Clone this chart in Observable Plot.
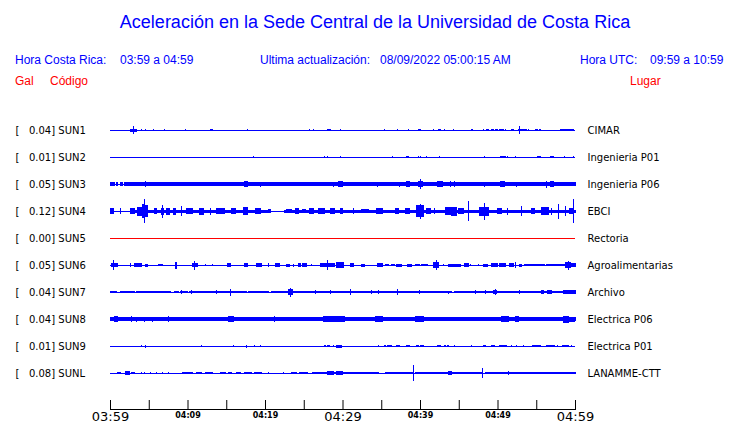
<!DOCTYPE html>
<html><head><meta charset="utf-8">
<script src="https://cdn.jsdelivr.net/npm/d3@7"></script>
<script src="https://cdn.jsdelivr.net/npm/@observablehq/plot@0.6"></script>
<style>
html,body{margin:0;padding:0;background:#fff;}
#chart{width:740px;}
#head{position:relative;height:100px;font-family:"Liberation Sans",Arial,sans-serif;}
#head div{position:absolute;white-space:pre;line-height:1;transform:translateY(-50%);}
#head .b{color:#0000ff;font-size:12px;}
#head .r{color:#ff0000;font-size:12px;}
#head #title{font-size:18px;color:#0000ff;left:375px;top:22px;transform:translate(-50%,-50%);}
#chart svg{display:block;}
</style></head>
<body>
<div id="chart">
  <div id="head">
    <div id="title">Aceleración en la Sede Central de la Universidad de Costa Rica</div>
    <div class="b" style="left:15px;top:60px">Hora Costa Rica:</div>
    <div class="b" style="left:120px;top:60px">03:59 a 04:59</div>
    <div class="b" style="left:260px;top:60px">Ultima actualización:</div>
    <div class="b" style="left:380px;top:60px">08/09/2022 05:00:15 AM</div>
    <div class="b" style="left:580px;top:60px">Hora UTC:</div>
    <div class="b" style="left:650px;top:60px">09:59 a 10:59</div>
    <div class="r" style="left:15px;top:81px">Gal</div>
    <div class="r" style="left:50px;top:81px">Código</div>
    <div class="r" style="left:630px;top:81px">Lugar</div>
  </div>
</div>
<script>
// ---- data ----
const stations = ["SUN1","SUN2","SUN3","SUN4","SUN5","SUN6","SUN7","SUN8","SUN9","SUNL"];
const peaks = [0.04,0.01,0.05,0.12,0.00,0.05,0.04,0.04,0.01,0.08];
const places = ["CIMAR","Ingenieria P01","Ingenieria P06","EBCI","Rectoria","Agroalimentarias","Archivo","Electrica P06","Electrica P01","LANAMME-CTT"];
const tickMinutes = [0,10,20,30,40,50,60];
const tickLabels = ["03:59","04:09","04:19","04:29","04:39","04:49","04:59"];
const majorTickLabels = ["03:59","04:29","04:59"];

// continuous noise bands: [startMin, endMin, halfAmplitude Gal]
const sun1Band = [];
const sun2Band = [];
const sun3Band = [[0,0.6,0.017],[0.8,1.0,0.017],[1.3,1.6,0.017],[1.9,60,0.017]];
const sun4Band = [[2.6,20.5,0.015],[22.5,60,0.015]];
const sun5Band = [];
const sun6Band = [];
const sun7Band = [[0,0.9,0.014],[1.3,3.1,0.014],[3.4,7.8,0.014],[8.3,8.8,0.014],[9.1,10.0,0.014],[10.3,17.6,0.014],[17.9,20.5,0.014],[20.9,44.0,0.014],[44.4,60,0.014]];
const sun8Band = [[0,60,0.019]];
const sun9Band = [];
const sunlBand = [[26.1,34.6,0.013],[35.5,39.0,0.013],[39.4,43.7,0.013],[44.1,48.0,0.013],[48.4,60,0.013]];

// bursts: [startMin, endMin, halfAmplitude Gal]
const sun1Bursts = [[2.7,3.4,0.015],[3.0,3.0,0.04],[4.0,4.0,0.01],[4.6,4.6,0.008],[5.6,5.6,0.01],[7.0,7.0,0.01],[9.7,9.7,0.01],[13.0,13.2,0.013],[17.7,17.7,0.007],[25.7,25.7,0.012],[26.2,26.2,0.012],[28.1,28.4,0.013],[29.8,29.8,0.012],[35.4,35.4,0.007],[37.1,37.1,0.007],[38.5,38.5,0.008],[39.8,40.1,0.013],[41.7,41.7,0.008],[42.4,42.7,0.013],[43.2,43.2,0.008],[44.3,44.3,0.007],[46.7,46.8,0.012],[48.2,48.2,0.01],[48.6,48.9,0.012],[49.2,49.5,0.013],[49.8,50.0,0.012],[50.3,50.8,0.013],[51.0,51.0,0.01],[51.8,52.0,0.012],[52.7,53.8,0.012],[52.9,52.9,0.04],[54.0,54.0,0.008],[54.9,55.1,0.013],[55.4,55.6,0.013],[58.1,59.8,0.012]];
const sun2Bursts = [[18.5,18.5,0.007],[27.7,27.7,0.006],[28.1,28.1,0.006],[29.8,29.8,0.01],[36.4,36.4,0.006],[38.3,38.5,0.01],[39.8,39.8,0.01],[40.1,40.1,0.01],[40.9,40.9,0.01],[42.5,42.5,0.006],[48.3,48.3,0.008],[50.4,51.0,0.012],[51.3,51.3,0.008],[52.3,52.3,0.006],[55.1,55.5,0.01],[56.8,57.2,0.01],[58.7,58.7,0.008],[59.8,59.8,0.006]];
const sun3Bursts = [[4.6,4.6,0.027],[7.2,7.2,0.02],[8.5,8.5,0.02],[16.1,16.1,0.02],[17.4,17.7,0.03],[19.4,19.4,0.025],[21.5,21.5,0.018],[28.8,28.8,0.025],[29.5,30.0,0.028],[34.5,34.5,0.025],[36.4,36.4,0.022],[37.3,37.3,0.025],[38.3,38.6,0.028],[39.8,40.3,0.028],[40.0,40.0,0.05],[42.3,42.9,0.026],[43.9,43.9,0.027],[44.4,44.4,0.027],[48.3,48.3,0.025],[50.4,50.9,0.028],[52.4,52.4,0.025],[54.8,55.0,0.024],[55.3,55.5,0.024],[56.3,56.3,0.035],[56.8,57.2,0.026],[58.5,59.8,0.024]];
const sun4Bursts = [[0.1,0.4,0.027],[1.3,1.3,0.027],[2.7,3.2,0.03],[3.6,4.1,0.045],[4.2,4.4,0.07],[4.5,4.5,0.12],[4.6,4.8,0.06],[5.7,6.0,0.032],[6.7,6.9,0.035],[6.8,6.8,0.065],[7.3,7.7,0.035],[8.2,8.5,0.035],[9.2,9.2,0.05],[9.9,10.6,0.027],[11.5,12.0,0.035],[13.0,13.0,0.035],[13.8,14.8,0.027],[15.7,16.2,0.027],[17.2,17.8,0.038],[18.8,19.4,0.032],[20.4,20.7,0.02],[22.8,23.4,0.02],[23.9,24.3,0.026],[24.8,25.2,0.022],[25.8,26.2,0.026],[26.9,27.7,0.027],[28.4,29.0,0.027],[29.7,30.0,0.03],[31.4,31.4,0.028],[32.5,33.3,0.02],[34.4,35.1,0.027],[36.8,37.2,0.028],[38.1,38.7,0.032],[39.6,40.4,0.06],[40.0,40.0,0.075],[40.9,41.3,0.032],[41.9,41.9,0.03],[43.3,44.1,0.036],[44.1,44.7,0.045],[45.0,45.6,0.032],[46.3,46.3,0.1],[47.7,48.8,0.045],[48.3,48.3,0.085],[50.0,50.5,0.028],[51.3,51.3,0.035],[53.1,53.1,0.05],[54.4,54.8,0.028],[55.7,56.6,0.036],[57.0,57.0,0.035],[57.9,57.9,0.075],[58.8,58.8,0.05],[59.3,59.8,0.028],[59.8,59.8,0.12]];
const sun5Bursts = [];
const sun6Bursts = [[0.2,1.0,0.022],[0.5,0.5,0.05],[2.6,2.6,0.02],[3.1,4.0,0.018],[4.6,4.9,0.015],[6.2,6.8,0.013],[8.4,8.6,0.035],[10.6,11.3,0.022],[10.9,10.9,0.045],[12.3,12.3,0.01],[13.2,13.2,0.01],[15.2,15.6,0.022],[17.4,17.8,0.016],[18.9,19.5,0.016],[20.4,20.4,0.022],[21.4,21.9,0.016],[22.8,23.1,0.015],[23.7,23.7,0.015],[24.3,24.6,0.018],[24.9,25.4,0.016],[26.0,26.0,0.012],[27.1,28.0,0.024],[28.1,28.1,0.05],[28.2,29.0,0.024],[29.2,30.1,0.026],[31.0,31.4,0.02],[32.5,32.8,0.015],[34.5,35.1,0.016],[35.5,35.9,0.013],[36.3,36.7,0.013],[37.0,37.6,0.015],[38.4,38.9,0.015],[39.4,39.9,0.013],[40.2,41.0,0.013],[41.8,42.4,0.028],[42.1,42.1,0.048],[43.0,43.0,0.012],[43.7,45.2,0.015],[45.7,46.2,0.018],[46.5,46.5,0.012],[47.6,47.6,0.01],[48.2,48.7,0.015],[49.2,50.0,0.016],[50.3,51.0,0.018],[51.6,52.0,0.018],[52.3,52.3,0.033],[52.8,53.1,0.015],[53.5,56.1,0.013],[56.3,58.7,0.013],[58.8,59.4,0.028],[59.1,59.1,0.045],[59.4,60,0.016]];
const sun7Bursts = [[9.2,9.2,0.018],[10.5,10.5,0.018],[13.7,13.7,0.02],[15.5,15.5,0.035],[23.0,23.5,0.026],[23.3,23.3,0.045],[26.5,26.5,0.02],[28.4,28.4,0.02],[31.0,31.0,0.027],[33.8,33.8,0.018],[34.6,34.6,0.018],[37.1,37.1,0.033],[39.9,39.9,0.02],[43.7,43.7,0.015],[47.1,47.1,0.02],[48.4,48.4,0.02],[49.5,49.9,0.02],[49.7,49.7,0.03],[52.9,52.9,0.02],[55.7,55.9,0.02],[56.5,57.0,0.02],[58.5,60,0.02]];
const sun8Bursts = [[0.6,1.0,0.027],[2.8,2.8,0.027],[3.4,3.4,0.025],[4.5,4.5,0.025],[5.5,5.5,0.025],[7.5,7.5,0.027],[11.0,11.0,0.02],[11.7,11.7,0.02],[12.3,12.3,0.02],[13.8,14.6,0.024],[15.3,15.9,0.028],[17.4,18.3,0.024],[18.9,19.6,0.024],[21.2,21.2,0.027],[23.0,23.4,0.022],[24.3,24.3,0.022],[26.0,26.9,0.024],[27.5,28.4,0.026],[28.6,30.3,0.03],[30.7,32.0,0.024],[32.5,32.9,0.023],[34.2,35.1,0.026],[35.5,36.3,0.024],[37.2,38.1,0.023],[39.4,40.4,0.032],[40.9,41.7,0.024],[42.2,42.8,0.024],[43.4,44.3,0.024],[45.0,46.4,0.023],[46.9,47.5,0.023],[49.2,49.9,0.024],[50.5,51.4,0.028],[52.3,52.7,0.027],[53.1,55.3,0.023],[55.7,56.6,0.024],[57.0,58.5,0.023],[58.5,59.1,0.035],[59.3,59.9,0.025]];
const sun9Bursts = [[4.1,4.1,0.01],[4.6,4.6,0.015],[11.8,11.8,0.01],[15.9,15.9,0.008],[17.6,17.6,0.015],[18.6,18.6,0.008],[19.4,19.4,0.008],[27.7,27.8,0.012],[28.1,28.3,0.012],[28.8,28.8,0.012],[29.2,29.9,0.015],[34.6,34.6,0.012],[35.4,35.6,0.013],[35.8,36.0,0.013],[36.2,36.3,0.013],[37.0,37.4,0.012],[38.3,38.7,0.012],[39.6,39.8,0.013],[40.0,40.4,0.013],[42.2,42.7,0.012],[43.2,43.3,0.012],[43.6,43.7,0.012],[44.5,44.5,0.012],[46.7,46.7,0.01],[48.2,48.5,0.012],[49.2,49.6,0.012],[50.3,51.2,0.013],[51.8,51.8,0.012],[52.5,52.5,0.01],[53.4,53.4,0.012],[54.5,55.5,0.013],[56.3,57.3,0.013],[57.8,57.8,0.01],[58.4,59.2,0.013],[59.6,59.6,0.01]];
const sunlBursts = [[1.0,1.3,0.013],[2.0,2.5,0.02],[2.8,3.2,0.013],[4.0,4.0,0.013],[4.4,4.4,0.013],[5.2,5.2,0.013],[6.0,6.0,0.01],[6.8,6.8,0.01],[7.5,7.5,0.01],[9.3,10.6,0.013],[11.1,11.8,0.013],[12.3,13.2,0.013],[14.2,14.9,0.013],[15.3,15.7,0.013],[16.3,16.8,0.013],[17.4,18.3,0.013],[18.7,19.6,0.013],[20.5,20.5,0.01],[22.4,22.4,0.01],[23.4,24.0,0.013],[24.4,25.5,0.013],[28.0,28.8,0.02],[29.2,30.0,0.02],[39.1,39.1,0.08],[43.7,44.1,0.02],[48.0,48.0,0.05],[51.4,51.4,0.02]];

const bands = [sun1Band,sun2Band,sun3Band,sun4Band,sun5Band,sun6Band,sun7Band,sun8Band,sun9Band,sunlBand];
const bursts = [sun1Bursts,sun2Bursts,sun3Bursts,sun4Bursts,sun5Bursts,sun6Bursts,sun7Bursts,sun8Bursts,sun9Bursts,sunlBursts];

// ---- build ----
const ROW = 0.27; // Gal offset between trace baselines
const BLUE = "#0000ff", RED = "#ff0000";
const colorOf = s => s === "SUN5" ? RED : BLUE;
const xDomain = [tickMinutes[0], tickMinutes[tickMinutes.length - 1]];
const rows = stations.map((s, i) => ({station: s, i, base: -i * ROW}));
const segs = [];
stations.forEach((s, i) => {
  for (const [t0, t1, a] of bands[i].concat(bursts[i])) segs.push({station: s, base: -i * ROW, t0, t1, a});
});
const labelAt = v => Math.round(-v / ROW);
const fmtTime = d => tickLabels[tickMinutes.indexOf(d)];
const majorTicks = tickMinutes.filter((m, k) => majorTickLabels.includes(tickLabels[k]));
const minorTicks = tickMinutes.filter((m, k) => !majorTickLabels.includes(tickLabels[k]));
const NB = "\u00a0";

const chart = Plot.plot({
  width: 740,
  height: 323,
  marginLeft: 110,
  marginRight: 165,
  marginTop: 16,
  marginBottom: 14,
  style: {fontFamily: "DejaVu Sans", fontSize: "10px", background: "white", color: "black"},
  x: {domain: xDomain},
  y: {domain: [0, -(stations.length - 1) * ROW], range: [30, 273]},
  color: {type: "identity"},
  marks: [
    Plot.ruleY(rows, {y: "base", x1: xDomain[0], x2: xDomain[1], stroke: d => colorOf(d.station), strokeWidth: 1}),
    Plot.rect(segs, {x1: "t0", x2: "t1", y1: d => d.base - d.a, y2: d => d.base + d.a, fill: d => colorOf(d.station), insetLeft: -0.5, insetRight: -0.5, shapeRendering: "crispEdges"}),
    Plot.axisY(rows.map(r => r.base), {anchor: "left", tickSize: 0, tickPadding: 95, textAnchor: "start", label: null,
      tickFormat: v => `[${NB}${NB}${NB}${peaks[labelAt(v)].toFixed(2)}]${NB}${stations[labelAt(v)]}`}),
    Plot.axisY(rows.map(r => r.base), {anchor: "right", tickSize: 0, tickPadding: 12, label: null,
      tickFormat: v => places[labelAt(v)]}),
    Plot.frame({anchor: "bottom", stroke: "black"}),
    Plot.axisX(tickMinutes.concat(d3.range(5, 60, 10)), {tickSize: -9, tickFormat: () => "", label: null, stroke: "black"}),
    Plot.axisX(majorTicks, {tickSize: 0, tickPadding: 2, fontSize: 13, tickFormat: fmtTime, label: null}),
    Plot.axisX(minorTicks, {tickSize: 0, tickPadding: 3, fontSize: 8, fontWeight: "bold", tickFormat: fmtTime, label: null})
  ]
});
document.getElementById("chart").appendChild(chart);
</script>
</body></html>
